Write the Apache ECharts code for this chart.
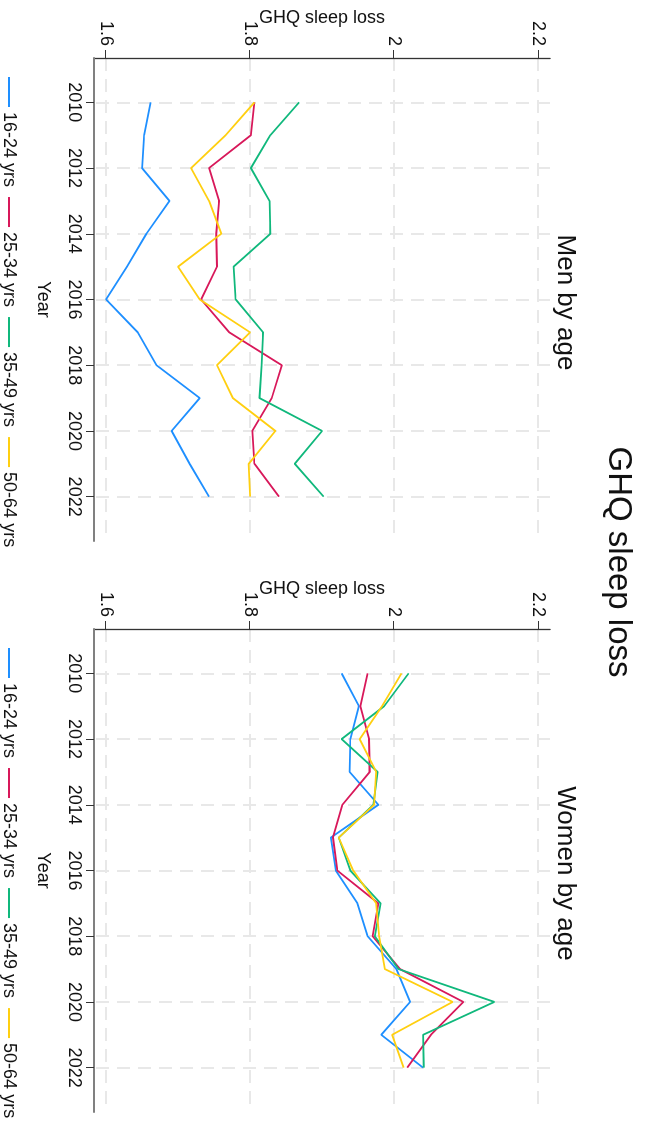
<!DOCTYPE html>
<html>
<head>
<meta charset="utf-8">
<script src="https://cdn.jsdelivr.net/npm/echarts@6/dist/echarts.min.js"></script>
<style>
html,body{margin:0;padding:0;background:#fff;overflow:hidden;}
#wrap{position:absolute;left:0;top:0;width:1126px;height:649px;transform-origin:0 0;transform:translate(649px,0) rotate(90deg);}
#chart{width:1126px;height:649px;}
</style>
</head>
<body>
<div id="wrap"><div id="chart"></div></div>
<script>
const years = [2010, 2011, 2012, 2013, 2014, 2015, 2016, 2017, 2018, 2019, 2020, 2021, 2022];
const yearTicks = [2010, 2012, 2014, 2016, 2018, 2020, 2022];
const valueTicks = [1.6, 1.8, 2, 2.2];
const groups = ['16-24 yrs', '25-34 yrs', '35-49 yrs', '50-64 yrs'];
const panelTitles = ['Men by age', 'Women by age'];

const men1624 = [1.662, 1.653, 1.650, 1.688, 1.656, 1.629, 1.600, 1.644, 1.670, 1.730, 1.691, 1.716, 1.743];
const men2534 = [1.806, 1.801, 1.743, 1.757, 1.753, 1.754, 1.732, 1.771, 1.844, 1.830, 1.803, 1.806, 1.840];
const men3549 = [1.868, 1.828, 1.801, 1.827, 1.828, 1.777, 1.780, 1.818, 1.816, 1.813, 1.900, 1.862, 1.902];
const men5064 = [1.806, 1.766, 1.718, 1.743, 1.760, 1.700, 1.730, 1.800, 1.754, 1.776, 1.835, 1.798, 1.800];

const women1624 = [1.927, 1.951, 1.939, 1.938, 1.978, 1.912, 1.919, 1.949, 1.963, 2.003, 2.022, 1.982, 2.040];
const women2534 = [1.963, 1.953, 1.965, 1.966, 1.928, 1.915, 1.921, 1.978, 1.970, 2.008, 2.096, 2.051, 2.018];
const women3549 = [2.020, 1.986, 1.927, 1.977, 1.971, 1.923, 1.939, 1.981, 1.973, 2.006, 2.139, 2.040, 2.041];
const women5064 = [2.010, 1.983, 1.952, 1.975, 1.972, 1.923, 1.943, 1.975, 1.979, 1.987, 2.081, 1.997, 2.013];

const colors = ['#1e8fff', '#d8185a', '#10b87c', '#ffcf10'];
const FONT = '"Liberation Sans", Arial, sans-serif';

const panels = [[men1624, men2534, men3549, men5064], [women1624, women2534, women3549, women5064]];
const gridLefts = [58, 629];
const gridWidth = 483;

const chart = echarts.init(document.getElementById('chart'), null, {renderer: 'canvas'});

const grids = [], xAxes = [], yAxes = [], series = [], legends = [], titles = [];
titles.push({
  text: 'GHQ sleep loss', left: 557, top: 9, textAlign: 'center',
  textStyle: {fontFamily: FONT, fontSize: 33, fontWeight: 'normal', color: '#111'}
});
panels.forEach((sets, p) => {
  grids.push({left: gridLefts[p], top: 99, width: gridWidth, height: 456, containLabel: false});
  titles.push({
    text: panelTitles[p], left: gridLefts[p] + gridWidth / 2 - 2, top: 66, textAlign: 'center',
    textStyle: {fontFamily: FONT, fontSize: 26, fontWeight: 'normal', color: '#111'}
  });
  xAxes.push({
    type: 'value', gridIndex: p, min: 2008.65, max: 2023.35,
    name: 'Year', nameLocation: 'middle', nameGap: 42, nameMoveOverlap: false,
    nameTextStyle: {fontFamily: FONT, fontSize: 18, color: '#111'},
    axisLine: {show: true, lineStyle: {color: '#808080', width: 2}},
    axisTick: {show: true, length: 8, customValues: yearTicks, lineStyle: {color: '#333', width: 1}},
    axisLabel: {customValues: yearTicks, margin: 11, fontFamily: FONT, fontSize: 18, color: '#111', formatter: v => String(Math.round(v))},
    splitLine: {show: true, lineStyle: {color: '#e8e8e8', width: 2, type: [13, 8]}}
  });
  yAxes.push({
    type: 'value', gridIndex: p, min: 1.5833, max: 2.2162,
    name: 'GHQ sleep loss', nameLocation: 'middle', nameGap: 31, nameRotate: 90, nameMoveOverlap: false,
    nameTextStyle: {fontFamily: FONT, fontSize: 18, color: '#111'},
    axisLine: {show: true, lineStyle: {color: '#333', width: 1.3}},
    axisTick: {show: true, length: 8, customValues: valueTicks, lineStyle: {color: '#333', width: 1}},
    axisLabel: {customValues: valueTicks, margin: 12, fontFamily: FONT, fontSize: 18, color: '#111', formatter: v => String(Math.round(v * 10) / 10)},
    splitLine: {show: true, lineStyle: {color: '#e8e8e8', width: 2, type: [13, 8]}}
  });
  sets.forEach((vals, i) => {
    series.push({
      type: 'line', name: groups[i], xAxisIndex: p, yAxisIndex: p,
      data: years.map((y, k) => [y, vals[k]]),
      showSymbol: false, symbol: 'none', animation: false,
      lineStyle: {color: colors[i], width: 1.8}, itemStyle: {color: colors[i]}
    });
  });
  legends.push({
    data: groups, left: p === 0 ? 72 : 643, top: 626, orient: 'horizontal',
    icon: 'rect', itemWidth: 30, itemHeight: 2, itemGap: 10,
    textStyle: {fontFamily: FONT, fontSize: 18, color: '#111'}
  });
});

chart.setOption({
  backgroundColor: '#fff',
  animation: false,
  title: titles,
  grid: grids,
  xAxis: xAxes,
  yAxis: yAxes,
  legend: legends,
  series: series
});
</script>
</body>
</html>
